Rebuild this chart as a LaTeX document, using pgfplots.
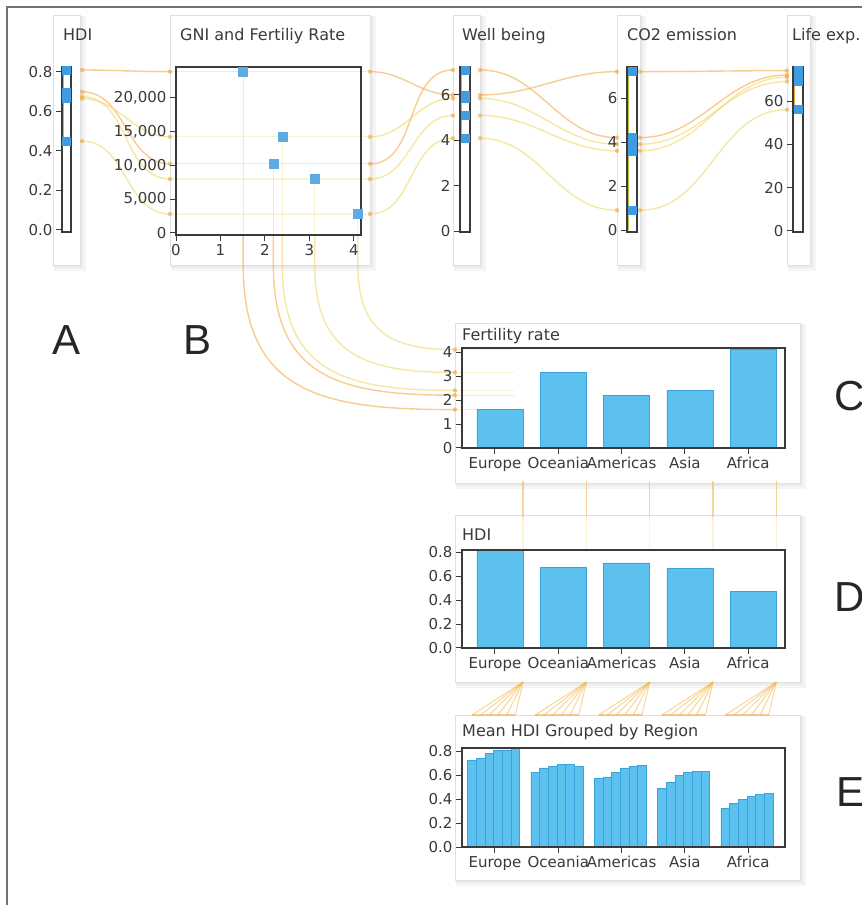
\documentclass[border=0pt]{standalone}
\usepackage{pgfplots}
\pgfplotsset{compat=1.18}
\usepackage{fontspec}
\setmainfont{DejaVu Sans}
\newfontfamily\letterfont{Liberation Sans}
\usetikzlibrary{calc}
\definecolor{barfill}{HTML}{5CC1EF}
\definecolor{bardraw}{HTML}{3AA3DD}
\definecolor{mblue}{HTML}{3F9CE3}
\definecolor{axgray}{HTML}{3A3A3A}
\definecolor{lorange}{HTML}{F5A33A}
\definecolor{lyellow}{HTML}{EED65A}
\definecolor{olive2}{HTML}{B8BC3C}
\pgfdeclarelayer{background}
\pgfsetlayers{background,main}
\pgfplotsset{
 base/.style={scale only axis, anchor=south west,
   axis line style={draw=axgray, line width=1.2pt},
   tick style={draw=axgray, line width=1pt},
   tick align=outside, major tick length=6pt,
   tick label style={font=\fontsize{15}{15}\selectfont, text=axgray},
   /pgf/number format/assume math mode=true, axis on top,
   scaled ticks=false},
 vaxis/.style={base, width=10pt, height=165pt, xmin=0, xmax=1, xtick=\empty, ytick pos=left},
 baraxis/.style={base, width=323pt, xmin=-0.6, xmax=4.5, ymin=0,
   xtick={-0.08,0.92,1.92,2.92,3.92}, xticklabels={Europe,Oceania,Americas,Asia,Africa},
   xtick pos=left, ytick pos=left, ybar},
 vmark/.style={only marks, color=mblue, mark=square*, mark size=4pt},
 bars/.style={fill=barfill, draw=bardraw, line width=0.5pt},
}
\tikzset{
 link/.style={line width=1.4pt, opacity=0.55},
 faint/.style={line width=1.2pt, opacity=0.25},
 dot/.style={fill=lorange, opacity=0.6},
 ttl/.style={anchor=base west, inner sep=0pt, font=\fontsize{16}{16}\selectfont, text=axgray},
 big/.style={anchor=base west, inner sep=0pt, font=\letterfont\fontsize{42}{42}\selectfont, text=black!85},
}
\begin{document}
\begin{tikzpicture}[x=1pt,y=1pt]
\useasboundingbox (0,0) rectangle (862,905);
\begin{pgfonlayer}{background}
 \fill[white] (0,0) rectangle (862,905);
 \foreach \xa/\ya/\xb/\yb in {53/640/80/890, 170/640/370/890, 453/640/480/890, 617/640/640/890, 787/640/810/890, 455/422/800/582, 455/223/800/390, 455/25/800/190}{
   \fill[black!4] (\xa+1,\ya-6) rectangle (\xb+6,\yb-1);
   \fill[black!8] (\xa+1,\ya-3) rectangle (\xb+3,\yb-1);
   \filldraw[fill=white, draw=black!12, line width=0.6pt] (\xa,\ya) rectangle (\xb,\yb);
 }
\end{pgfonlayer}

% ---------- A: HDI ----------
\begin{axis}[vaxis, at={(62pt,673pt)}, width=9pt, ymin=-0.0101, ymax=0.8253,
  ytick={0,0.2,0.4,0.6,0.8}, yticklabels={0.0,0.2,0.4,0.6,0.8}]
\addplot[lorange, line width=1.5pt] coordinates {(0.15,0.45) (0.15,0.81)};
\addplot[vmark] coordinates {(0.5,0.81) (0.5,0.675) (0.5,0.70) (0.5,0.665) (0.5,0.45)};
\coordinate (A-eu) at (axis cs:1,0.81);
\coordinate (A-oc) at (axis cs:1,0.675);
\coordinate (A-am) at (axis cs:1,0.70);
\coordinate (A-as) at (axis cs:1,0.665);
\coordinate (A-af) at (axis cs:1,0.45);
\end{axis}

% ---------- B: GNI and fertility ----------
\begin{axis}[base, at={(176pt,670pt)}, width=185pt, height=168pt,
  xmin=0, xmax=4.16, ymin=-296, ymax=24593,
  xtick={0,1,2,3,4}, ytick={0,5000,10000,15000,20000},
  yticklabels={0,{5,000},{10,000},{15,000},{20,000}},
  xtick pos=left, ytick pos=left]
\addplot[only marks, color=mblue!85!white, mark=square*, mark size=4.5pt]
  coordinates {(1.51,23900) (3.12,8000) (2.19,10240) (2.39,14240) (4.09,2820)};
\coordinate (Bl-eu) at (axis cs:0,23900);    \coordinate (Br-eu) at (axis cs:4.16,23900);
\coordinate (Bl-oc) at (axis cs:0,8000);     \coordinate (Br-oc) at (axis cs:4.16,8000);
\coordinate (Bl-am) at (axis cs:0,10240);    \coordinate (Br-am) at (axis cs:4.16,10240);
\coordinate (Bl-as) at (axis cs:0,14240);    \coordinate (Br-as) at (axis cs:4.16,14240);
\coordinate (Bl-af) at (axis cs:0,2820);     \coordinate (Br-af) at (axis cs:4.16,2820);
\coordinate (Bp-eu) at (axis cs:1.51,23900); \coordinate (Bb-eu) at (axis cs:1.51,-296);
\coordinate (Bp-oc) at (axis cs:3.12,8000);  \coordinate (Bb-oc) at (axis cs:3.12,-296);
\coordinate (Bp-am) at (axis cs:2.19,10240); \coordinate (Bb-am) at (axis cs:2.19,-296);
\coordinate (Bp-as) at (axis cs:2.39,14240); \coordinate (Bb-as) at (axis cs:2.39,-296);
\coordinate (Bp-af) at (axis cs:4.09,2820);  \coordinate (Bb-af) at (axis cs:4.09,-296);
\end{axis}

% ---------- Well being ----------
\begin{axis}[vaxis, at={(460pt,673pt)}, ymin=-0.022, ymax=7.23, ytick={0,2,4,6}]
\addplot[lorange, line width=1.5pt] coordinates {(0.15,4.1) (0.15,7.1)};
\addplot[vmark] coordinates {(0.5,6.0) (0.5,5.1) (0.5,7.1) (0.5,5.85) (0.5,4.1)};
\coordinate (Wl-eu) at (axis cs:0,6.0);  \coordinate (Wr-eu) at (axis cs:1,6.0);
\coordinate (Wl-oc) at (axis cs:0,5.1);  \coordinate (Wr-oc) at (axis cs:1,5.1);
\coordinate (Wl-am) at (axis cs:0,7.1);  \coordinate (Wr-am) at (axis cs:1,7.1);
\coordinate (Wl-as) at (axis cs:0,5.85); \coordinate (Wr-as) at (axis cs:1,5.85);
\coordinate (Wl-af) at (axis cs:0,4.1);  \coordinate (Wr-af) at (axis cs:1,4.1);
\end{axis}

% ---------- CO2 emission ----------
\begin{axis}[vaxis, at={(627pt,673pt)}, ymin=-0.09, ymax=7.41, ytick={0,2,4,6}]
\addplot[olive2, line width=1.5pt] coordinates {(0.15,0) (0.15,7.4)};
\addplot[vmark] coordinates {(0.5,7.2) (0.5,3.6) (0.5,4.2) (0.5,3.9) (0.5,0.9)};
\coordinate (Cl-eu) at (axis cs:0,7.2); \coordinate (Cr-eu) at (axis cs:1,7.2);
\coordinate (Cl-oc) at (axis cs:0,3.6); \coordinate (Cr-oc) at (axis cs:1,3.6);
\coordinate (Cl-am) at (axis cs:0,4.2); \coordinate (Cr-am) at (axis cs:1,4.2);
\coordinate (Cl-as) at (axis cs:0,3.9); \coordinate (Cr-as) at (axis cs:1,3.9);
\coordinate (Cl-af) at (axis cs:0,0.9); \coordinate (Cr-af) at (axis cs:1,0.9);
\end{axis}

% ---------- Life expectancy ----------
\begin{axis}[vaxis, at={(793pt,673pt)}, ymin=-0.46, ymax=75.7, ytick={0,20,40,60}]
\addplot[lorange, line width=1.5pt] coordinates {(0.15,56) (0.15,74)};
\addplot[vmark] coordinates {(0.5,74) (0.5,71) (0.5,72) (0.5,69) (0.5,56)};
\coordinate (Ll-eu) at (axis cs:0,74);
\coordinate (Ll-oc) at (axis cs:0,71);
\coordinate (Ll-am) at (axis cs:0,72);
\coordinate (Ll-as) at (axis cs:0,69);
\coordinate (Ll-af) at (axis cs:0,56);
\end{axis}

% ---------- C: Fertility rate ----------
\begin{axis}[baraxis, at={(462pt,457pt)}, height=100pt, ymax=4.17, ytick={0,1,2,3,4}, bar width=0.727]
\addplot[bars] coordinates {(0,1.6) (1,3.15) (2,2.2) (3,2.4) (4,4.1)};
\coordinate (F-eu) at (axis cs:-0.6,1.6);
\coordinate (F-oc) at (axis cs:-0.6,3.15);
\coordinate (F-am) at (axis cs:-0.6,2.2);
\coordinate (F-as) at (axis cs:-0.6,2.4);
\coordinate (F-af) at (axis cs:-0.6,4.1);
\coordinate (CV-eu) at (axis cs:0.3635,0);
\coordinate (CV-oc) at (axis cs:1.3635,0);
\coordinate (CV-am) at (axis cs:2.3635,0);
\coordinate (CV-as) at (axis cs:3.3635,0);
\coordinate (CV-af) at (axis cs:4.3635,0);
\end{axis}

% ---------- D: HDI ----------
\begin{axis}[baraxis, at={(462pt,257pt)}, height=98pt, ymax=0.817,
  ytick={0,0.2,0.4,0.6,0.8}, yticklabels={0.0,0.2,0.4,0.6,0.8}, bar width=0.727]
\addplot[bars] coordinates {(0,0.83) (1,0.675) (2,0.71) (3,0.665) (4,0.47)};
\coordinate (DV-eu) at (axis cs:0.3635,0);
\coordinate (DV-oc) at (axis cs:1.3635,0);
\coordinate (DV-am) at (axis cs:2.3635,0);
\coordinate (DV-as) at (axis cs:3.3635,0);
\coordinate (DV-af) at (axis cs:4.3635,0);
\end{axis}

% ---------- E: Mean HDI grouped by region ----------
\begin{axis}[baraxis, at={(462pt,58pt)}, height=99pt, ymax=0.825,
  ytick={0,0.2,0.4,0.6,0.8}, yticklabels={0.0,0.2,0.4,0.6,0.8}, bar width=0.137]
\addplot[bars] coordinates {
 (-0.4425,0.725) (-0.3055,0.74) (-0.1685,0.78) (-0.0315,0.81) (0.1055,0.81) (0.2425,0.83)
 (0.5575,0.625) (0.6945,0.66) (0.8315,0.675) (0.9685,0.69) (1.1055,0.69) (1.2425,0.675)
 (1.5575,0.57) (1.6945,0.585) (1.8315,0.625) (1.9685,0.66) (2.1055,0.67) (2.2425,0.68)
 (2.5575,0.49) (2.6945,0.54) (2.8315,0.60) (2.9685,0.62) (3.1055,0.63) (3.2425,0.63)
 (3.5575,0.325) (3.6945,0.365) (3.8315,0.40) (3.9685,0.42) (4.1055,0.44) (4.2425,0.45)};
\coordinate (EL-eu) at (axis cs:-0.4425,0.825); \coordinate (ER-eu) at (axis cs:0.2425,0.825);
\coordinate (EL-oc) at (axis cs:0.5575,0.825);  \coordinate (ER-oc) at (axis cs:1.2425,0.825);
\coordinate (EL-am) at (axis cs:1.5575,0.825);  \coordinate (ER-am) at (axis cs:2.2425,0.825);
\coordinate (EL-as) at (axis cs:2.5575,0.825);  \coordinate (ER-as) at (axis cs:3.2425,0.825);
\coordinate (EL-af) at (axis cs:3.5575,0.825);  \coordinate (ER-af) at (axis cs:4.2425,0.825);
\end{axis}

% ---------- links ----------
\begin{pgfonlayer}{background}
\foreach \cc/\col in {eu/lorange, oc/lyellow, am/lorange, as/lyellow, af/lyellow}{
  \draw[link, draw=\col] ([xshift=11pt]A-\cc) to[out=0,in=180] ([xshift=-6pt]Bl-\cc);
  \draw[faint, draw=\col] ([xshift=-6pt]Bl-\cc) -- ([xshift=9pt]Br-\cc);
  \draw[link, draw=\col] ([xshift=9pt]Br-\cc) to[out=0,in=180] ([xshift=-7pt]Wl-\cc);
  \draw[link, draw=\col] ([xshift=10pt]Wr-\cc) to[out=0,in=180] ([xshift=-10pt]Cl-\cc);
  \draw[link, draw=\col] ([xshift=3pt]Cr-\cc) to[out=0,in=180] ([xshift=-6pt]Ll-\cc);
  \draw[faint, draw=\col] (Bp-\cc) -- (Bb-\cc);
  \draw[link, draw=\col] (Bb-\cc) -- ++(0,-30) to[out=-90,in=180,looseness=1.3] ([xshift=-7pt]F-\cc);
  \draw[faint, draw=\col] ([xshift=-7pt]F-\cc) -- ++(60,0);
  \fill[dot] ([xshift=11pt]A-\cc) circle (2.2pt);
  \fill[dot] ([xshift=-6pt]Bl-\cc) circle (2.2pt);
  \fill[dot] ([xshift=9pt]Br-\cc) circle (2.2pt);
  \fill[dot] ([xshift=-7pt]Wl-\cc) circle (2.2pt);
  \fill[dot] ([xshift=10pt]Wr-\cc) circle (2.2pt);
  \fill[dot] ([xshift=-10pt]Cl-\cc) circle (2.2pt);
  \fill[dot] ([xshift=3pt]Cr-\cc) circle (2.2pt);
  \fill[dot] ([xshift=-6pt]Ll-\cc) circle (2.2pt);
  \fill[dot] ([xshift=-7pt]F-\cc) circle (2.2pt);
  % C -> D
  \draw[link, draw=lorange!70!lyellow] ([yshift=-33pt]CV-\cc) -- ++(0,-36);
  \draw[faint, draw=lyellow] ([yshift=-69pt]CV-\cc) -- ++(0,-32);
  % D -> E fans
  \foreach \t in {0,0.2,0.4,0.6,0.8,1}{
    \draw[link, draw=lorange!60!lyellow, line width=1pt] ([yshift=-34pt]DV-\cc) -- ($(EL-\cc)!\t!(ER-\cc)+(0,33)$);
  }
  \draw[link, draw=lorange, line width=1.4pt] ($(EL-\cc)+(0,33)$) -- ($(ER-\cc)+(0,33)$);
}
\end{pgfonlayer}

% ---------- titles ----------
\node[ttl] at (63,864) {HDI};
\node[ttl] at (180,864) {GNI and Fertiliy Rate};
\node[ttl] at (462,864) {Well being};
\node[ttl] at (627,864) {CO2 emission};
\node[ttl] at (792,864) {Life exp.};
\node[ttl] at (462,564) {Fertility rate};
\node[ttl] at (462,364) {HDI};
\node[ttl] at (462,168) {Mean HDI Grouped by Region};

% ---------- panel letters ----------
\node[big] at (52,550) {A};
\node[big] at (183,550) {B};
\node[big] at (834,494) {C};
\node[big] at (834,293) {D};
\node[big] at (836,98) {E};

% ---------- frame ----------
\draw[black!55, line width=1.5pt] (7,0) -- (7,898) -- (870,898);
\end{tikzpicture}
\end{document}
